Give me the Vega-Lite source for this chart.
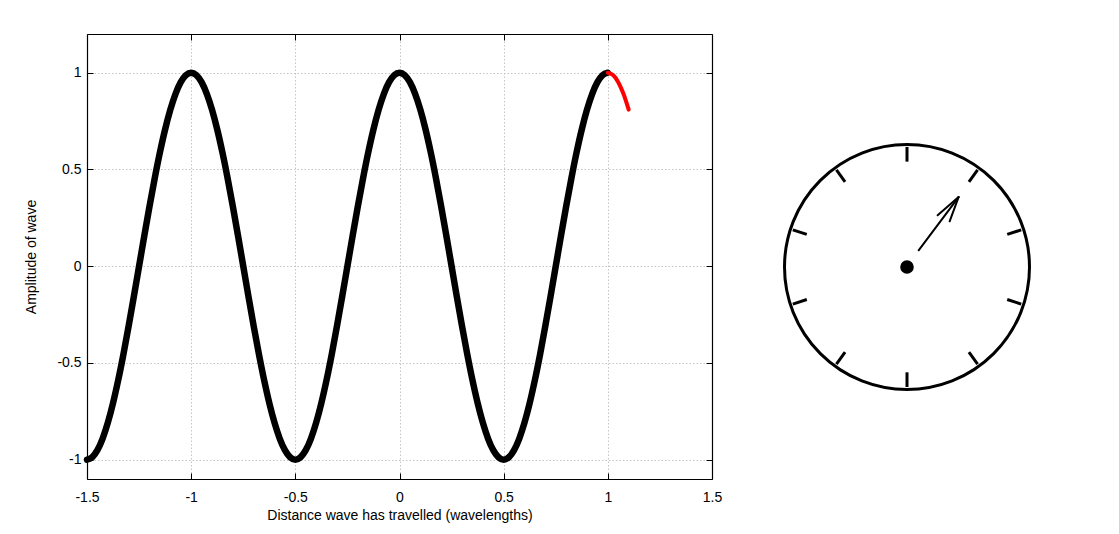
{
  "$schema": "https://vega.github.io/schema/vega-lite/v6.json",
  "padding": {"left": 24, "top": 33, "right": 5, "bottom": 5},
  "background": "white",
  "config": {
    "view": {"stroke": null},
    "font": "Liberation Sans",
    "axis": {
      "labelFont": "Liberation Sans",
      "labelFontSize": 14,
      "labelColor": "black",
      "titleFont": "Liberation Sans",
      "titleFontSize": 14,
      "titleFontWeight": "normal",
      "titleColor": "black",
      "domainColor": "black",
      "domainWidth": 1.2,
      "tickColor": "black",
      "tickWidth": 1,
      "tickSize": -6,
      "gridColor": "#c4c4c4",
      "gridDash": [1.5, 2],
      "gridWidth": 1
    }
  },
  "datasets": {
    "past": [
      {"x":-1.5,"y":-1},{"x":-1.475,"y":-0.9877},{"x":-1.45,"y":-0.9511},{"x":-1.425,"y":-0.891},{"x":-1.4,"y":-0.809},{"x":-1.375,"y":-0.7071},{"x":-1.35,"y":-0.5878},{"x":-1.325,"y":-0.454},{"x":-1.3,"y":-0.309},{"x":-1.275,"y":-0.1564},{"x":-1.25,"y":0},{"x":-1.225,"y":0.1564},{"x":-1.2,"y":0.309},{"x":-1.175,"y":0.454},{"x":-1.15,"y":0.5878},{"x":-1.125,"y":0.7071},{"x":-1.1,"y":0.809},{"x":-1.075,"y":0.891},{"x":-1.05,"y":0.9511},{"x":-1.025,"y":0.9877},{"x":-1,"y":1},
      {"x":-0.975,"y":0.9877},{"x":-0.95,"y":0.9511},{"x":-0.925,"y":0.891},{"x":-0.9,"y":0.809},{"x":-0.875,"y":0.7071},{"x":-0.85,"y":0.5878},{"x":-0.825,"y":0.454},{"x":-0.8,"y":0.309},{"x":-0.775,"y":0.1564},{"x":-0.75,"y":0},{"x":-0.725,"y":-0.1564},{"x":-0.7,"y":-0.309},{"x":-0.675,"y":-0.454},{"x":-0.65,"y":-0.5878},{"x":-0.625,"y":-0.7071},{"x":-0.6,"y":-0.809},{"x":-0.575,"y":-0.891},{"x":-0.55,"y":-0.9511},{"x":-0.525,"y":-0.9877},{"x":-0.5,"y":-1},
      {"x":-0.475,"y":-0.9877},{"x":-0.45,"y":-0.9511},{"x":-0.425,"y":-0.891},{"x":-0.4,"y":-0.809},{"x":-0.375,"y":-0.7071},{"x":-0.35,"y":-0.5878},{"x":-0.325,"y":-0.454},{"x":-0.3,"y":-0.309},{"x":-0.275,"y":-0.1564},{"x":-0.25,"y":0},{"x":-0.225,"y":0.1564},{"x":-0.2,"y":0.309},{"x":-0.175,"y":0.454},{"x":-0.15,"y":0.5878},{"x":-0.125,"y":0.7071},{"x":-0.1,"y":0.809},{"x":-0.075,"y":0.891},{"x":-0.05,"y":0.9511},{"x":-0.025,"y":0.9877},{"x":0,"y":1},
      {"x":0.025,"y":0.9877},{"x":0.05,"y":0.9511},{"x":0.075,"y":0.891},{"x":0.1,"y":0.809},{"x":0.125,"y":0.7071},{"x":0.15,"y":0.5878},{"x":0.175,"y":0.454},{"x":0.2,"y":0.309},{"x":0.225,"y":0.1564},{"x":0.25,"y":0},{"x":0.275,"y":-0.1564},{"x":0.3,"y":-0.309},{"x":0.325,"y":-0.454},{"x":0.35,"y":-0.5878},{"x":0.375,"y":-0.7071},{"x":0.4,"y":-0.809},{"x":0.425,"y":-0.891},{"x":0.45,"y":-0.9511},{"x":0.475,"y":-0.9877},{"x":0.5,"y":-1},
      {"x":0.525,"y":-0.9877},{"x":0.55,"y":-0.9511},{"x":0.575,"y":-0.891},{"x":0.6,"y":-0.809},{"x":0.625,"y":-0.7071},{"x":0.65,"y":-0.5878},{"x":0.675,"y":-0.454},{"x":0.7,"y":-0.309},{"x":0.725,"y":-0.1564},{"x":0.75,"y":0},{"x":0.775,"y":0.1564},{"x":0.8,"y":0.309},{"x":0.825,"y":0.454},{"x":0.85,"y":0.5878},{"x":0.875,"y":0.7071},{"x":0.9,"y":0.809},{"x":0.925,"y":0.891},{"x":0.95,"y":0.9511},{"x":0.975,"y":0.9877},{"x":1,"y":1}
    ],
    "recent": [
      {"x":1,"y":1},{"x":1.025,"y":0.9877},{"x":1.05,"y":0.9511},{"x":1.075,"y":0.891},{"x":1.1,"y":0.809}
    ],
    "dialFace": [{"cx": 0, "cy": 0}],
    "dialTicks": [
      {"x1":0,"y1":0.98,"x2":0,"y2":0.86},
      {"x1":0.576,"y1":0.793,"x2":0.5055,"y2":0.6957},
      {"x1":0.932,"y1":0.3028,"x2":0.818,"y2":0.2657},
      {"x1":0.932,"y1":-0.3028,"x2":0.818,"y2":-0.2657},
      {"x1":0.576,"y1":-0.793,"x2":0.5055,"y2":-0.6957},
      {"x1":0,"y1":-0.98,"x2":0,"y2":-0.86},
      {"x1":-0.576,"y1":-0.793,"x2":-0.5055,"y2":-0.6957},
      {"x1":-0.932,"y1":-0.3028,"x2":-0.818,"y2":-0.2657},
      {"x1":-0.932,"y1":0.3028,"x2":-0.818,"y2":0.2657},
      {"x1":-0.576,"y1":0.793,"x2":-0.5055,"y2":0.6957}
    ],
    "pointer": [
      {"x1":0.095,"y1":0.136,"x2":0.421,"y2":0.571},
      {"x1":0.421,"y1":0.571,"x2":0.25,"y2":0.422},
      {"x1":0.421,"y1":0.571,"x2":0.348,"y2":0.373}
    ]
  },
  "hconcat": [
    {
      "width": 625,
      "height": 445,
      "layer": [
        {
          "data": {"name": "past"},
          "mark": {"type": "line", "color": "black", "strokeWidth": 6.5, "strokeCap": "round", "strokeJoin": "round", "interpolate": "monotone"},
          "encoding": {
            "x": {"field": "x", "type": "quantitative",
              "scale": {"domain": [-1.5, 1.5], "nice": false, "zero": false},
              "axis": {"orient": "bottom", "values": [-1.5, -1, -0.5, 0, 0.5, 1, 1.5], "labelExpr": "toString(datum.value)", "title": "Distance wave has travelled (wavelengths)", "grid": true, "labelPadding": 17, "titlePadding": 4, "labelFlush": false}},
            "y": {"field": "y", "type": "quantitative",
              "scale": {"domain": [-1.1, 1.2], "nice": false, "zero": false},
              "axis": {"orient": "left", "values": [-1, -0.5, 0, 0.5, 1], "labelExpr": "toString(datum.value)", "title": "Amplitude of wave", "grid": true, "labelPadding": 12, "titlePadding": 18}}
          }
        },
        {
          "data": {"name": "recent"},
          "mark": {"type": "line", "color": "#ff0000", "strokeWidth": 4, "strokeCap": "round", "interpolate": "monotone"},
          "encoding": {
            "x": {"field": "x", "type": "quantitative",
              "scale": {"domain": [-1.5, 1.5], "nice": false, "zero": false},
              "axis": {"orient": "top", "values": [-1.5, -1, -0.5, 0, 0.5, 1, 1.5], "labels": false, "title": null, "grid": false}},
            "y": {"field": "y", "type": "quantitative",
              "scale": {"domain": [-1.1, 1.2], "nice": false, "zero": false},
              "axis": {"orient": "right", "values": [-1, -0.5, 0, 0.5, 1], "labels": false, "title": null, "grid": false}}
          }
        }
      ],
      "resolve": {"axis": {"x": "independent", "y": "independent"}}
    },
    {
      "width": 260,
      "height": 445,
      "layer": [
        {
          "data": {"name": "dialFace"},
          "mark": {"type": "point", "shape": "circle", "filled": false, "size": 60025, "strokeWidth": 3, "color": "black", "opacity": 1},
          "encoding": {
            "x": {"field": "cx", "type": "quantitative", "scale": {"domain": [-1.061, 1.061], "nice": false, "zero": false}, "axis": null},
            "y": {"field": "cy", "type": "quantitative", "scale": {"domain": [-1.731, 1.902], "nice": false, "zero": false}, "axis": null}
          }
        },
        {
          "data": {"name": "dialTicks"},
          "mark": {"type": "rule", "color": "black", "strokeWidth": 3},
          "encoding": {
            "x": {"field": "x1", "type": "quantitative"},
            "y": {"field": "y1", "type": "quantitative"},
            "x2": {"field": "x2"},
            "y2": {"field": "y2"}
          }
        },
        {
          "data": {"name": "pointer"},
          "mark": {"type": "rule", "color": "black", "strokeWidth": 2, "strokeCap": "round"},
          "encoding": {
            "x": {"field": "x1", "type": "quantitative"},
            "y": {"field": "y1", "type": "quantitative"},
            "x2": {"field": "x2"},
            "y2": {"field": "y2"}
          }
        },
        {
          "data": {"name": "dialFace"},
          "mark": {"type": "circle", "size": 185, "color": "black", "opacity": 1},
          "encoding": {
            "x": {"field": "cx", "type": "quantitative"},
            "y": {"field": "cy", "type": "quantitative"}
          }
        }
      ]
    }
  ],
  "spacing": 55
}
